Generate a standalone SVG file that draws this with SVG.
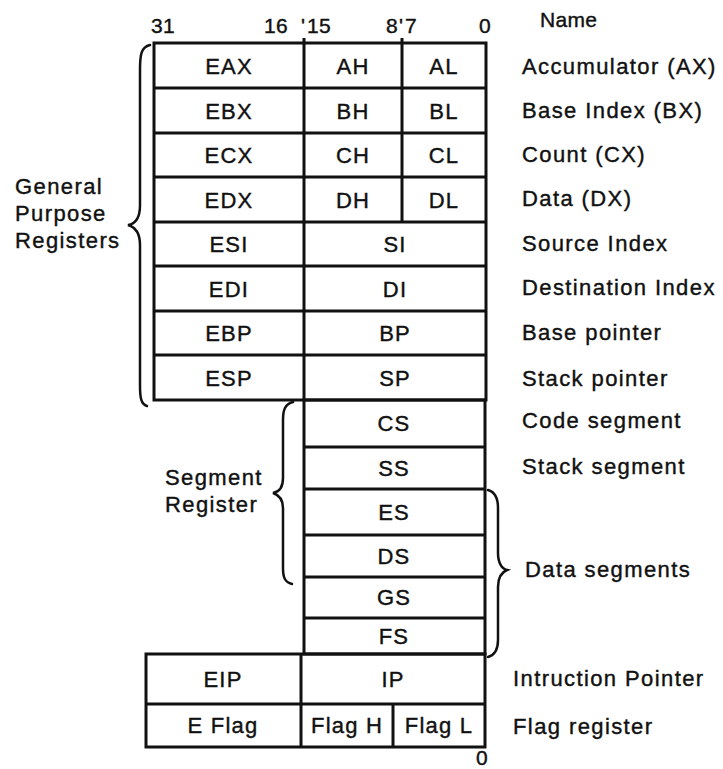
<svg xmlns="http://www.w3.org/2000/svg" width="723" height="769" viewBox="0 0 723 769">
<style>
  text { font-family: "Liberation Sans", Arial, sans-serif; fill: #111; stroke: #111; stroke-width: 0.4px; }
  .c { font-size: 22px; letter-spacing: 1.2px; text-anchor: middle; }
  .l { font-size: 22px; letter-spacing: 1.4px; }
  .h { font-size: 21px; letter-spacing: 0.3px; }
  .box { fill: none; stroke: #111; stroke-width: 3; }
  .ln { stroke: #111; stroke-width: 3; }
  .br { fill: none; stroke: #111; stroke-width: 2.5; stroke-linecap: round; }
</style>
<rect width="723" height="769" fill="#fff"/>

<g id="header">
  <text class="h" y="33"><tspan x="151">31</tspan><tspan x="264">16</tspan><tspan x="301">'</tspan><tspan x="307">15</tspan><tspan x="386">8</tspan><tspan x="399">'</tspan><tspan x="405">7</tspan><tspan x="479">0</tspan></text>
  <text class="h" x="540" y="27">Name</text>
</g>

<g id="general-registers">
  <rect class="box" x="154" y="43" width="332" height="357"/>
  <line class="ln" x1="154" y1="88" x2="486" y2="88"/>
  <line class="ln" x1="154" y1="133" x2="486" y2="133"/>
  <line class="ln" x1="154" y1="177" x2="486" y2="177"/>
  <line class="ln" x1="154" y1="222" x2="486" y2="222"/>
  <line class="ln" x1="154" y1="266" x2="486" y2="266"/>
  <line class="ln" x1="154" y1="311" x2="486" y2="311"/>
  <line class="ln" x1="154" y1="355" x2="486" y2="355"/>
  <line class="ln" x1="304" y1="38" x2="304" y2="400"/>
  <line class="ln" x1="402" y1="38" x2="402" y2="222"/>
</g>
<g id="row-ax">
  <text class="c" x="229" y="73.5">EAX</text><text class="c" x="353" y="73.5">AH</text><text class="c" x="444" y="73.5">AL</text>
  <text class="l" x="522" y="74">Accumulator (AX)</text>
</g>
<g id="row-bx">
  <text class="c" x="229" y="118.5">EBX</text><text class="c" x="353" y="118.5">BH</text><text class="c" x="444" y="118.5">BL</text>
  <text class="l" x="522" y="118">Base Index (BX)</text>
</g>
<g id="row-cx">
  <text class="c" x="229" y="163">ECX</text><text class="c" x="353" y="163">CH</text><text class="c" x="444" y="163">CL</text>
  <text class="l" x="522" y="162">Count (CX)</text>
</g>
<g id="row-dx">
  <text class="c" x="229" y="207.5">EDX</text><text class="c" x="353" y="207.5">DH</text><text class="c" x="444" y="207.5">DL</text>
  <text class="l" x="522" y="206">Data (DX)</text>
</g>
<g id="row-si">
  <text class="c" x="229" y="252">ESI</text><text class="c" x="395" y="252">SI</text>
  <text class="l" x="522" y="251">Source Index</text>
</g>
<g id="row-di">
  <text class="c" x="229" y="296.5">EDI</text><text class="c" x="395" y="296.5">DI</text>
  <text class="l" x="522" y="295">Destination Index</text>
</g>
<g id="row-bp">
  <text class="c" x="229" y="341">EBP</text><text class="c" x="395" y="341">BP</text>
  <text class="l" x="522" y="340">Base pointer</text>
</g>
<g id="row-sp">
  <text class="c" x="229" y="385.5">ESP</text><text class="c" x="395" y="385.5">SP</text>
  <text class="l" x="522" y="386">Stack pointer</text>
</g>

<g id="segment-registers">
  <rect class="box" x="304" y="400" width="181" height="254"/>
  <line class="ln" x1="304" y1="447" x2="485" y2="447"/>
  <line class="ln" x1="304" y1="489" x2="485" y2="489"/>
  <line class="ln" x1="304" y1="535" x2="485" y2="535"/>
  <line class="ln" x1="304" y1="577" x2="485" y2="577"/>
  <line class="ln" x1="304" y1="618" x2="485" y2="618"/>
</g>
<g id="row-cs"><text class="c" x="394" y="431">CS</text><text class="l" x="522" y="428">Code segment</text></g>
<g id="row-ss"><text class="c" x="394" y="476">SS</text><text class="l" x="522" y="474">Stack segment</text></g>
<g id="row-es"><text class="c" x="394" y="520">ES</text></g>
<g id="row-ds"><text class="c" x="394" y="564">DS</text></g>
<g id="row-gs"><text class="c" x="394" y="605">GS</text></g>
<g id="row-fs"><text class="c" x="394" y="644">FS</text></g>

<g id="row-ip">
  <rect class="box" x="146" y="654" width="339" height="93"/>
  <line class="ln" x1="146" y1="704" x2="485" y2="704"/>
  <line class="ln" x1="301" y1="654" x2="301" y2="747"/>
  <text class="c" x="223" y="687">EIP</text><text class="c" x="393" y="687">IP</text>
  <text class="l" x="513" y="686">Intruction Pointer</text>
</g>
<g id="row-flag">
  <line class="ln" x1="393" y1="704" x2="393" y2="747"/>
  <text class="c" x="223" y="733">E Flag</text><text class="c" x="347" y="733">Flag H</text><text class="c" x="439" y="733">Flag L</text>
  <text class="l" x="513" y="734">Flag register</text>
  <text class="h" x="476" y="765">0</text>
</g>

<g id="braces">
  <path class="br" d="M150,45 C141,47 140,55 140,70 L140,205 C140,218 135,224 128,225 C135,227 140,233 140,245 L140,385 C140,398 141,404 147,406"/>
  <path class="br" d="M293,402 C285,404 283,410 283,420 L283,478 C283,488 279,492 273,493 C279,495 283,499 283,508 L283,568 C283,578 285,582 292,584"/>
  <path class="br" d="M488,490 C495,492 498,498 498,508 L498,553 C498,563 502,569 507,570 C502,572 498,577 498,587 L498,640 C498,650 495,655 488,657"/>
</g>
<g id="group-labels">
  <text class="l" y="194"><tspan x="15">General</tspan><tspan x="15" dy="27">Purpose</tspan><tspan x="15" dy="27">Registers</tspan></text>
  <text class="l" y="485"><tspan x="165">Segment</tspan><tspan x="165" dy="27">Register</tspan></text>
  <text class="l" x="525" y="577">Data segments</text>
</g>
</svg>
